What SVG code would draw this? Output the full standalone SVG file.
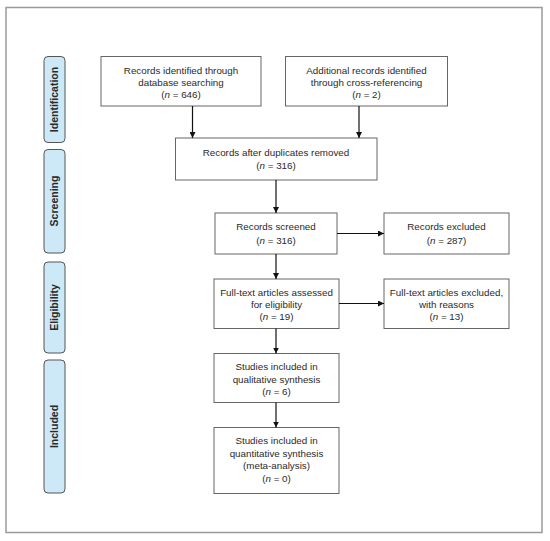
<svg xmlns="http://www.w3.org/2000/svg" width="550" height="541" viewBox="0 0 550 541">
<defs>
<marker id="ah" viewBox="0 0 10 10" refX="10" refY="5" markerWidth="6" markerHeight="6" orient="auto" markerUnits="userSpaceOnUse">
<path d="M0,0 L10,5 L0,10 z" fill="#111"/>
</marker>
<style>
.frame{fill:#fff;stroke:#9a9a9a;stroke-width:1.5}
.box{fill:#fff;stroke:#666;stroke-width:1}
.pill{fill:#cde9f8;stroke:#555;stroke-width:1}
.t{font-family:"Liberation Sans",Arial,sans-serif;font-size:9.8px;fill:#2a2a2a;text-anchor:middle}
.p{font-family:"Liberation Sans",Arial,sans-serif;font-size:10.5px;font-weight:bold;fill:#2a2a2a;text-anchor:middle}
.c{stroke:#111;stroke-width:1.2;fill:none;marker-end:url(#ah)}
</style>
</defs>
<rect width="550" height="541" fill="#fff"/>
<rect class="frame" x="6" y="7.5" width="536" height="525"/>
<g id="phase-identification"><rect class="pill" x="44" y="56.5" width="21" height="86" rx="4"/><text class="p" transform="translate(58.3 99.5) rotate(-90)">Identification</text></g>
<g id="phase-screening"><rect class="pill" x="44" y="149.5" width="21" height="103.5" rx="4"/><text class="p" transform="translate(58.3 201) rotate(-90)">Screening</text></g>
<g id="phase-eligibility"><rect class="pill" x="44" y="262" width="21" height="91" rx="4"/><text class="p" transform="translate(58.3 307.5) rotate(-90)">Eligibility</text></g>
<g id="phase-included"><rect class="pill" x="44" y="360" width="21" height="133" rx="4"/><text class="p" transform="translate(58.3 426.5) rotate(-90)">Included</text></g>
<g id="n1"><rect class="box" x="101" y="56.5" width="160" height="49.5"/>
<text class="t" x="181" y="73.5">Records identified through</text>
<text class="t" x="181" y="85.7">database searching</text>
<text class="t" x="181" y="97.9">(<tspan font-style="italic">n</tspan> = 646)</text></g>
<g id="n2"><rect class="box" x="285.5" y="56.5" width="162" height="49.5"/>
<text class="t" x="366.5" y="73.5">Additional records identified</text>
<text class="t" x="366.5" y="85.7">through cross-referencing</text>
<text class="t" x="366.5" y="97.9">(<tspan font-style="italic">n</tspan> = 2)</text></g>
<g id="n3"><rect class="box" x="175.5" y="138" width="201.5" height="42"/>
<text class="t" x="276" y="156">Records after duplicates removed</text>
<text class="t" x="276" y="168.5">(<tspan font-style="italic">n</tspan> = 316)</text></g>
<g id="n4"><rect class="box" x="215" y="213" width="122" height="41"/>
<text class="t" x="276" y="230">Records screened</text>
<text class="t" x="276" y="243.5">(<tspan font-style="italic">n</tspan> = 316)</text></g>
<g id="n5"><rect class="box" x="384" y="213" width="125" height="41"/>
<text class="t" x="446.5" y="230">Records excluded</text>
<text class="t" x="446.5" y="243.5">(<tspan font-style="italic">n</tspan> = 287)</text></g>
<g id="n6"><rect class="box" x="214" y="279" width="125" height="49.5"/>
<text class="t" x="276.5" y="295.8">Full-text articles assessed</text>
<text class="t" x="276.5" y="308.2">for eligibility</text>
<text class="t" x="276.5" y="320.4">(<tspan font-style="italic">n</tspan> = 19)</text></g>
<g id="n7"><rect class="box" x="384" y="279" width="125" height="49.5"/>
<text class="t" x="446.5" y="295.8">Full-text articles excluded,</text>
<text class="t" x="446.5" y="308.2">with reasons</text>
<text class="t" x="446.5" y="320.4">(<tspan font-style="italic">n</tspan> = 13)</text></g>
<g id="n8"><rect class="box" x="214" y="353.5" width="125" height="49"/>
<text class="t" x="276.5" y="370">Studies included in</text>
<text class="t" x="276.5" y="382.6">qualitative synthesis</text>
<text class="t" x="276.5" y="395.4">(<tspan font-style="italic">n</tspan> = 6)</text></g>
<g id="n9"><rect class="box" x="214" y="427.5" width="125" height="66"/>
<text class="t" x="276.5" y="444">Studies included in</text>
<text class="t" x="276.5" y="456.6">quantitative synthesis</text>
<text class="t" x="276.5" y="469.2">(meta-analysis)</text>
<text class="t" x="276.5" y="481.6">(<tspan font-style="italic">n</tspan> = 0)</text></g>
<g id="connectors">
<line class="c" x1="192.5" y1="106" x2="192.5" y2="138"/>
<line class="c" x1="359" y1="106" x2="359" y2="138"/>
<line class="c" x1="276" y1="180" x2="276" y2="213"/>
<line class="c" x1="337" y1="233.5" x2="384" y2="233.5"/>
<line class="c" x1="276" y1="254" x2="276" y2="279"/>
<line class="c" x1="339" y1="303.5" x2="384" y2="303.5"/>
<line class="c" x1="276" y1="328.5" x2="276" y2="353.5"/>
<line class="c" x1="276" y1="402.5" x2="276" y2="427.5"/>
</g>
</svg>
